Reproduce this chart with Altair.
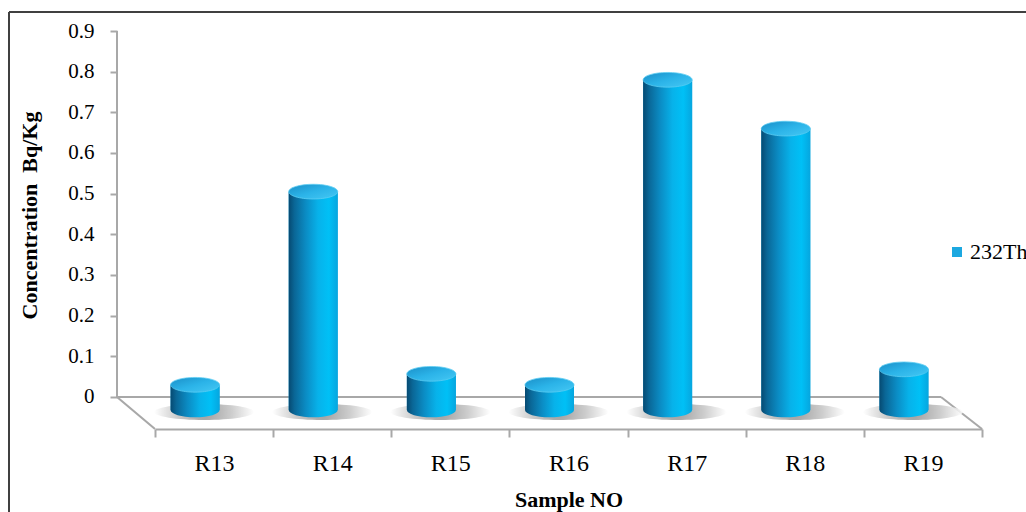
import altair as alt
import pandas as pd

# Sample codes and measured 232Th activity concentration (Bq/Kg)
samples = ["R13", "R14", "R15", "R16", "R17", "R18", "R19"]
th232 = [0.03, 0.505, 0.057, 0.03, 0.78, 0.66, 0.068]
series_name = ["232Th"] * len(samples)
y_ticks = [0, 0.1, 0.2, 0.3, 0.4, 0.5, 0.6, 0.7, 0.8, 0.9]

df = pd.DataFrame({"Sample": samples, "value": th232, "series": series_name})
one = pd.DataFrame({"k": [0]})

SERIF = "Liberation Serif"
FLOOR_FRONT = -0.0787   # front edge of the 3-D floor, below the zero wall line
BASE = -0.032           # bar footprint sits half-way into the floor depth
GREY = "#a8a8a8"

# Custom symbol paths: full ellipse for cylinder tops, lower half for bases,
# flat ellipse for the soft floor shadow.
CAP = "M -1 0 A 1 0.3 0 1 1 1 0 A 1 0.3 0 1 1 -1 0 Z"
HALF = "M -1 0 A 1 0.3 0 0 0 1 0 Z"
SHADOW = "M -1 0 A 1 0.16 0 1 1 1 0 A 1 0.16 0 1 1 -1 0 Z"

body_fill = alt.LinearGradient(
    gradient="linear", x1=0, x2=1, y1=0, y2=0,
    stops=[
        alt.GradientStop(offset=0.0, color="#064a72"),
        alt.GradientStop(offset=0.12, color="#0a6797"),
        alt.GradientStop(offset=0.35, color="#0b8cc4"),
        alt.GradientStop(offset=0.6, color="#07b2ea"),
        alt.GradientStop(offset=0.82, color="#00c0f6"),
        alt.GradientStop(offset=1.0, color="#06a6df"),
    ],
)
cap_fill = alt.LinearGradient(
    gradient="linear", x1=0, x2=1, y1=0, y2=1,
    stops=[
        alt.GradientStop(offset=0.0, color="#1a8fc8"),
        alt.GradientStop(offset=0.5, color="#2bb3e8"),
        alt.GradientStop(offset=1.0, color="#45c8f4"),
    ],
)
shadow_fill = alt.RadialGradient(
    gradient="radial", x1=0.5, y1=0.5, r1=0, x2=0.5, y2=0.5, r2=0.5,
    stops=[
        alt.GradientStop(offset=0.0, color="#8c8c8c"),
        alt.GradientStop(offset=0.55, color="#c4c4c4"),
        alt.GradientStop(offset=1.0, color="#ffffff"),
    ],
)

x_enc = alt.X(
    "Sample:N",
    sort=samples,
    scale=alt.Scale(domain=samples, paddingInner=0, paddingOuter=0),
    axis=alt.Axis(
        tickBand="extent", labelAngle=0,
        domainColor=GREY, domainWidth=2, tickColor=GREY, tickWidth=2, tickSize=8,
        labelFont=SERIF, labelFontSize=24, labelColor="black", labelPadding=14,
        title="Sample NO", titleFont=SERIF, titleFontSize=22, titleFontWeight="bold",
        titleColor="black", titlePadding=14,
    ),
)
y_scale = alt.Scale(domain=[FLOOR_FRONT, 0.9], nice=False, zero=False)
y_enc = alt.Y(
    "value:Q",
    scale=y_scale,
    axis=alt.Axis(
        values=y_ticks, format=".1~f", offset=38, domain=False, grid=False,
        tickColor=GREY, tickWidth=2, tickSize=7,
        labelFont=SERIF, labelFontSize=21, labelColor="black", labelPadding=16,
        title="Concentration\u00a0\u00a0Bq/Kg", titleFont=SERIF, titleFontSize=22,
        titleFontWeight="bold", titleColor="black", titlePadding=26, titleY=184,
    ),
)

base = alt.Chart(df)
frame = alt.Chart(one)

# chart border (left and top edges)
border_left = frame.mark_rule(color="#404040", strokeWidth=2).encode(
    x=alt.value(-146), y=alt.value(-19), y2=alt.value(481))
border_top = frame.mark_rule(color="#404040", strokeWidth=2).encode(
    x=alt.value(-146), x2=alt.value(871), y=alt.value(-19))

# back wall edge and the 3-D floor outline
wall = frame.mark_rule(color=GREY, strokeWidth=2).encode(
    x=alt.value(-38), y=alt.datum(0, scale=y_scale), y2=alt.datum(0.9))
floor_back = frame.mark_rule(color=GREY, strokeWidth=2).encode(
    x=alt.value(-38), x2=alt.value(786), y=alt.datum(0, scale=y_scale))
floor_left = frame.mark_rule(color=GREY, strokeWidth=2).encode(
    x=alt.value(-38), x2=alt.value(0),
    y=alt.datum(0, scale=y_scale), y2=alt.datum(FLOOR_FRONT))
floor_right = frame.mark_rule(color=GREY, strokeWidth=2).encode(
    x=alt.value(786), x2=alt.value(827),
    y=alt.datum(0, scale=y_scale), y2=alt.datum(FLOOR_FRONT))

shadows = base.mark_point(
    shape=SHADOW, size=100 ** 2, filled=True, fill=shadow_fill, strokeWidth=0,
    opacity=0.85, xOffset=-10, yOffset=2,
).encode(x=x_enc, y=alt.datum(BASE, scale=y_scale))

# solid bars carry the legend entry; the shaded cylinder body is drawn over them
bars_solid = base.mark_bar(width=49, xOffset=-19).encode(
    x=x_enc, y=y_enc, y2=alt.datum(BASE),
    color=alt.Color(
        "series:N", scale=alt.Scale(range=["#1ca8e0"]),
        legend=alt.Legend(
            title=None, orient="none", legendX=791, legendY=210,
            symbolType="square", symbolSize=100, symbolStrokeWidth=0,
            labelFont=SERIF, labelFontSize=22, labelColor="black", labelOffset=2,
        ),
    ),
)
bars_body = base.mark_bar(width=49, xOffset=-19, fill=body_fill).encode(
    x=x_enc, y=y_enc, y2=alt.datum(BASE))
bars_base = base.mark_point(
    shape=HALF, size=49 ** 2, filled=True, fill=body_fill, strokeWidth=0,
    opacity=1, xOffset=-19,
).encode(x=x_enc, y=alt.datum(BASE, scale=y_scale))
bars_cap = base.mark_point(
    shape=CAP, size=49 ** 2, filled=True, fill=cap_fill, stroke="#5ccdf3",
    strokeWidth=0.8, opacity=1, xOffset=-19,
).encode(x=x_enc, y=y_enc)

chart = alt.layer(
    border_left, border_top, wall, floor_back, floor_left, floor_right,
    shadows, bars_solid, bars_body, bars_base, bars_cap,
).properties(
    width=827, height=398,
    padding={"left": 155, "top": 31, "right": 44, "bottom": 83},
    autosize=alt.AutoSizeParams(type="none"),
    background="white",
).configure_view(strokeWidth=0)

chart.save("out.html", embed_options={"renderer": "svg", "actions": False})
